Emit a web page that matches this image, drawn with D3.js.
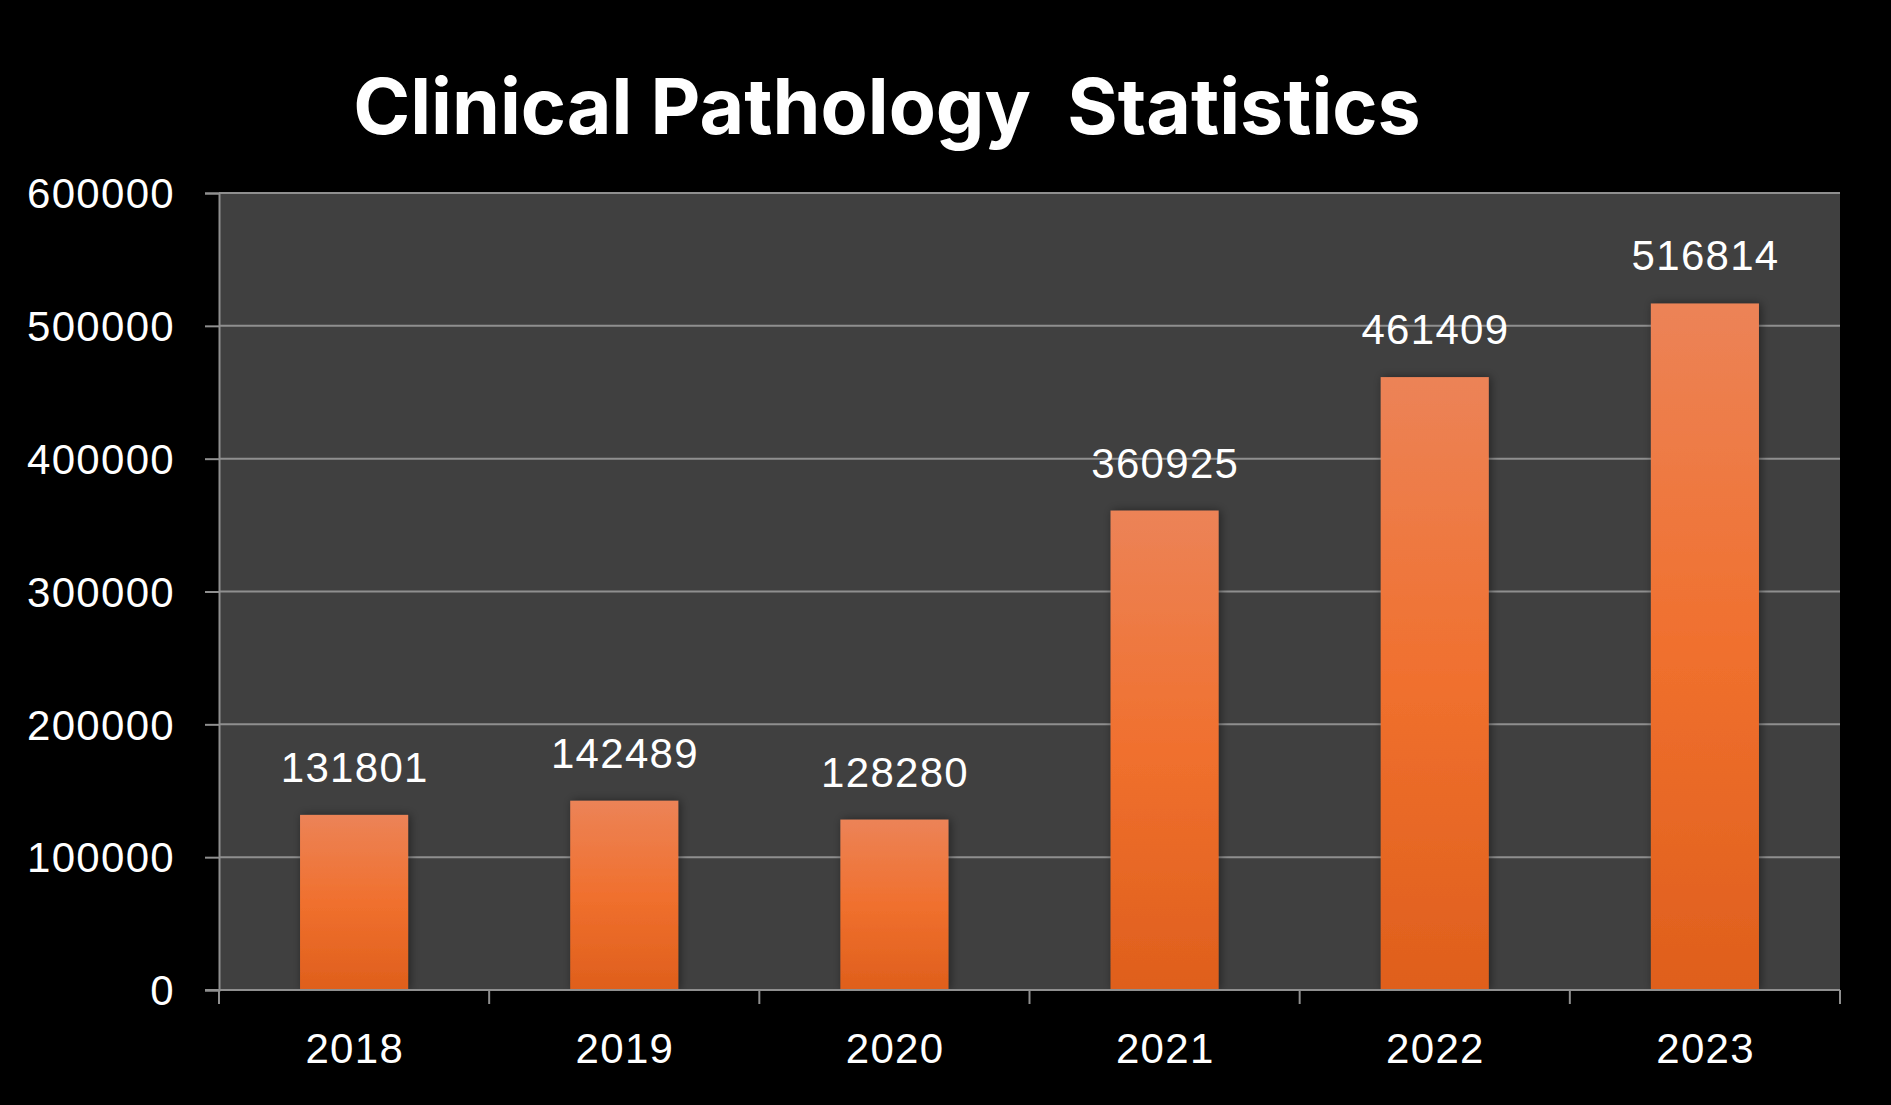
<!DOCTYPE html>
<html>
<head>
<meta charset="utf-8">
<script src="https://cdn.jsdelivr.net/npm/d3@7"></script>
<style>
  html, body { margin: 0; padding: 0; background: #000; }
  svg { display: block; }
</style>
</head>
<body>
<svg id="chart" width="1891" height="1105"></svg>
<script>
const title = "Clinical Pathology  Statistics";
const years = ["2018", "2019", "2020", "2021", "2022", "2023"];
const values = [131801, 142489, 128280, 360925, 461409, 516814];
const yTicks = [0, 100000, 200000, 300000, 400000, 500000, 600000];

const W = 1891, H = 1105;
const margin = { left: 219, right: W - 1840, top: 193, bottom: H - 990 };
const svg = d3.select("#chart");
svg.append("rect").attr("width", W).attr("height", H).attr("fill", "#000");

const defs = svg.append("defs");
const grad = defs.append("linearGradient").attr("id", "barGrad")
  .attr("x1", 0).attr("y1", 0).attr("x2", 0).attr("y2", 1);
grad.append("stop").attr("offset", "0%").attr("stop-color", "#EC8357");
grad.append("stop").attr("offset", "50%").attr("stop-color", "#F0702E");
grad.append("stop").attr("offset", "100%").attr("stop-color", "#DF5F1C");
const filt = defs.append("filter").attr("id", "shadow")
  .attr("x", "-30%").attr("y", "-10%").attr("width", "160%").attr("height", "120%");
filt.append("feDropShadow").attr("dx", 2).attr("dy", 0).attr("stdDeviation", 5)
  .attr("flood-color", "#000").attr("flood-opacity", 0.45);

const x = d3.scaleBand().domain(years).range([margin.left, W - margin.right]).padding(0);
const y = d3.scaleLinear().domain([0, 600000]).range([H - margin.bottom, margin.top]);

const fontFam = "'Liberation Sans', Arial, sans-serif";
const fs = 42, ls = 1.3;

// plot background
svg.append("rect")
  .attr("x", margin.left).attr("y", margin.top)
  .attr("width", W - margin.left - margin.right)
  .attr("height", H - margin.top - margin.bottom)
  .attr("fill", "#404040");

const lineColor = "#8f8f8f";

// gridlines
svg.append("g").selectAll("line").data(yTicks.filter(d => d > 0)).join("line")
  .attr("x1", margin.left).attr("x2", W - margin.right)
  .attr("y1", d => y(d)).attr("y2", d => y(d))
  .attr("stroke", lineColor).attr("stroke-width", 2);

// y axis
const yAxis = svg.append("g").attr("transform", `translate(${margin.left},0)`)
  .call(d3.axisLeft(y).tickValues(yTicks).tickSize(14).tickPadding(30).tickFormat(d => String(d)));
yAxis.select(".domain").attr("stroke", lineColor).attr("stroke-width", 2);
yAxis.selectAll(".tick line").attr("stroke", lineColor).attr("stroke-width", 2);
yAxis.selectAll(".tick text")
  .attr("fill", "#fff").attr("font-family", fontFam)
  .attr("font-size", fs).attr("letter-spacing", ls).attr("dy", "0.35em");

// bars
const bw = x.bandwidth() * 0.4;
svg.append("g").selectAll("rect").data(values).join("rect")
  .attr("x", (d, i) => x(years[i]) + x.bandwidth() / 2 - bw / 2)
  .attr("y", d => y(d))
  .attr("width", bw)
  .attr("height", d => y(0) - y(d))
  .attr("fill", "url(#barGrad)")
  .attr("filter", "url(#shadow)");

// x axis
const bandEdges = years.map(d => x(d)).concat([W - margin.right]);
const xAxisG = svg.append("g");
xAxisG.append("line")
  .attr("x1", margin.left - 14).attr("x2", W - margin.right)
  .attr("y1", y(0)).attr("y2", y(0))
  .attr("stroke", lineColor).attr("stroke-width", 2);
xAxisG.selectAll("line.tk").data(bandEdges).join("line").attr("class", "tk")
  .attr("x1", d => d).attr("x2", d => d)
  .attr("y1", y(0)).attr("y2", y(0) + 14)
  .attr("stroke", lineColor).attr("stroke-width", 2);
xAxisG.selectAll("text").data(years).join("text")
  .attr("x", d => x(d) + x.bandwidth() / 2 + ls / 2)
  .attr("y", y(0) + 73)
  .attr("text-anchor", "middle")
  .attr("fill", "#fff").attr("font-family", fontFam)
  .attr("font-size", fs).attr("letter-spacing", ls)
  .text(d => d);

// data labels
svg.append("g").selectAll("text").data(values).join("text")
  .attr("x", (d, i) => x(years[i]) + x.bandwidth() / 2 + ls / 2)
  .attr("y", d => y(d) - 33)
  .attr("text-anchor", "middle")
  .attr("fill", "#fff").attr("font-family", fontFam)
  .attr("font-size", fs).attr("letter-spacing", ls)
  .text(d => String(d));

// title
svg.append("text")
  .attr("x", 887).attr("y", 134)
  .attr("text-anchor", "middle")
  .attr("fill", "#fff")
  .attr("font-family", "Inter, 'Open Sans', sans-serif")
  .attr("font-weight", 700)
  .attr("font-size", 77)
  .style("white-space", "pre")
  .text(title);
</script>
</body>
</html>
